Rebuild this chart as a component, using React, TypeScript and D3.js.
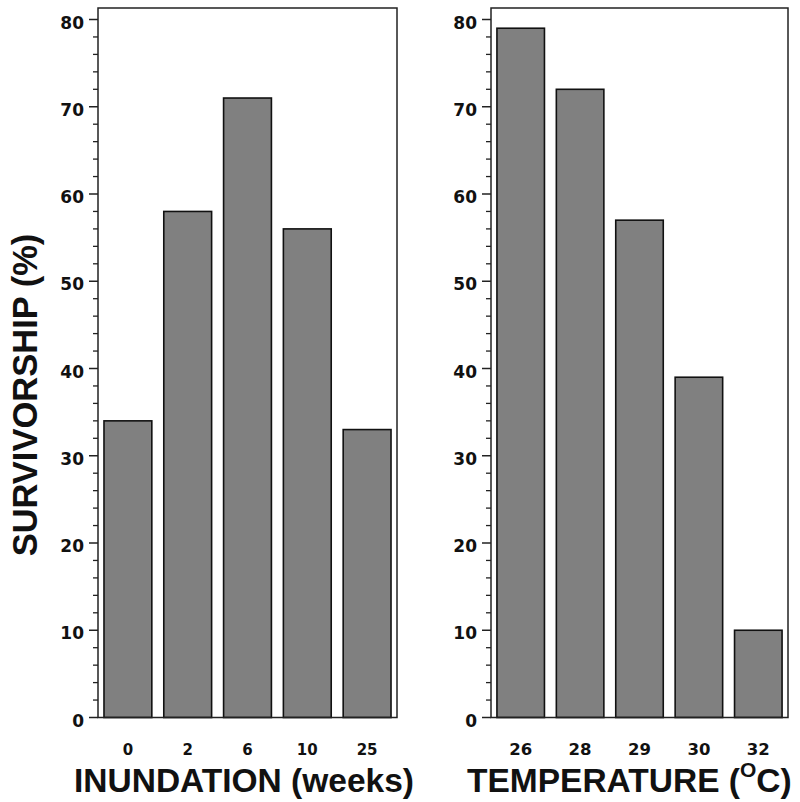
import React from "react";
import * as d3 from "d3";

const inundationCats = ["0", "2", "6", "10", "25"];
const inundationVals = [34, 58, 71, 56, 33];
const temperatureCats = ["26", "28", "29", "30", "32"];
const temperatureVals = [79, 72, 57, 39, 10];
const majorTicks = [0, 10, 20, 30, 40, 50, 60, 70, 80];
const minorTicks = d3.range(0, 81, 2).filter((v) => v % 10 !== 0);

const W = 800;
const H = 802;
const yTop = 8;
const yBottom = 717.5;

const y = d3.scaleLinear().domain([0, 80]).range([yBottom, 19.5]);

const tickFont = "'DejaVu Sans', sans-serif";
const titleFont = "'Liberation Sans', Arial, sans-serif";

function Panel({ x0, x1, cats, vals, xLabelSize }: { x0: number; x1: number; cats: string[]; vals: number[]; xLabelSize: number }) {
  const x = d3.scaleBand<string>().domain(cats).range([x0, x1]).paddingInner(0.2).paddingOuter(0.1);
  return (
    <g>
      {cats.map((c, i) => (
        <rect
          key={c}
          x={x(c)}
          y={y(vals[i])}
          width={x.bandwidth()}
          height={yBottom - y(vals[i])}
          fill="#808080"
          stroke="#111"
          strokeWidth={1.6}
        />
      ))}
      <rect x={x0} y={yTop} width={x1 - x0} height={yBottom - yTop} fill="none" stroke="#222" strokeWidth={1.5} />
      {majorTicks.map((t) => (
        <g key={"M" + t}>
          <line x1={x0 - 9} x2={x0} y1={y(t)} y2={y(t)} stroke="#222" strokeWidth={1.5} />
          <text x={x0 - 14} y={y(t) + 9} textAnchor="end" fontFamily={tickFont} fontWeight="bold" fontSize={17} fill="#111">
            {t}
          </text>
        </g>
      ))}
      {minorTicks.map((t) => (
        <line key={"m" + t} x1={x0 - 5} x2={x0} y1={y(t)} y2={y(t)} stroke="#222" strokeWidth={1.3} />
      ))}
      {cats.map((c) => (
        <text
          key={"l" + c}
          x={(x(c) as number) + x.bandwidth() / 2}
          y={755}
          textAnchor="middle"
          fontFamily={tickFont}
          fontWeight="bold"
          fontSize={xLabelSize}
          fill="#111"
        >
          {c}
        </text>
      ))}
    </g>
  );
}

export default function App() {
  return (
    <svg width={W} height={H} style={{ position: "absolute", left: 0, top: 0, background: "#fff" }}>
      <rect x={0} y={0} width={W} height={H} fill="#fff" />
      <Panel x0={98} x1={397} cats={inundationCats} vals={inundationVals} xLabelSize={15} />
      <Panel x0={491} x1={788} cats={temperatureCats} vals={temperatureVals} xLabelSize={16.5} />
      <text
        transform={`translate(37,395) rotate(-90)`}
        textAnchor="middle"
        fontFamily={titleFont}
        fontWeight="bold"
        fontSize={34.5}
        fill="#111"
      >
        SURVIVORSHIP (%)
      </text>
      <text x={74} y={792} fontFamily={titleFont} fontWeight="bold" fontSize={33.5} fill="#111">
        INUNDATION (weeks)
      </text>
      <text x={467} y={792} fontFamily={titleFont} fontWeight="bold" fontSize={33.5} fill="#111">
        TEMPERATURE (
        <tspan fontSize={21} dy={-15}>O</tspan>
        <tspan dy={15}>C)</tspan>
      </text>
    </svg>
  );
}
